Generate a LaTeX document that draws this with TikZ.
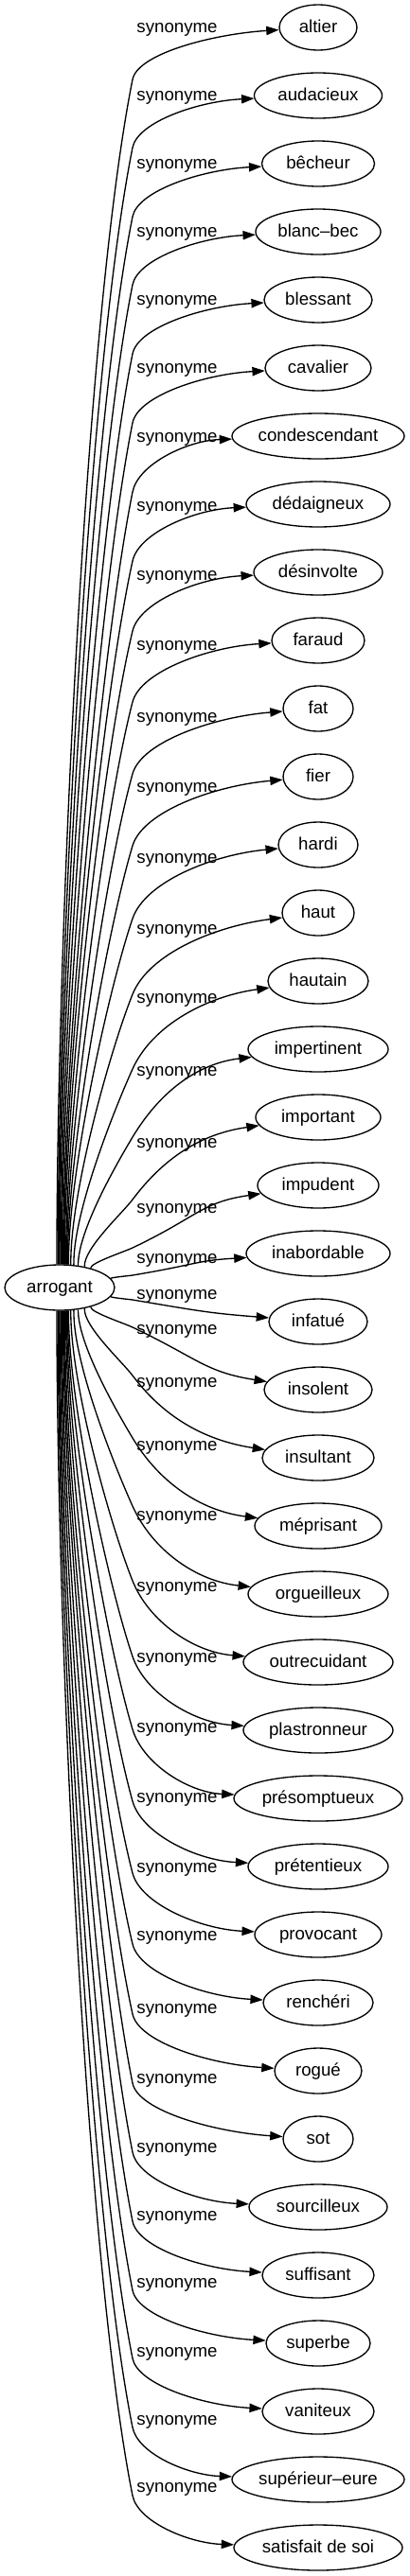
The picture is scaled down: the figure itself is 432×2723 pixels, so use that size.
\documentclass[tikz,border=0pt]{standalone}
\usepackage{fontspec}
\setmainfont{Liberation Sans}
\usetikzlibrary{shapes.geometric,arrows.meta}
\tikzset{
  tgt/.style={draw, ellipse, line width=1pt, inner sep=0pt, minimum height=36pt, text height=11.2pt, text depth=2.8pt},
  lbl/.style={inner sep=0pt, text height=11.2pt, text depth=2.8pt},
  edg/.style={line width=1pt, -{Triangle[length=10pt,width=7pt]}},
}
\newcommand\tgtnode[4]{\pgfmathsetmacro\myMw{#3*0.75}\node[tgt, minimum width=\myMw pt] (#1) at (336,#2) {#4};}
\newcommand\lblnode[2]{\node[lbl] (#1) at (187,#2) {synonyme};}
\newcommand\sedge[8]{%
 \pgfmathsetmacro\eTy{1361+(#3)*(1332-72*(#2))}%
 \pgfmathsetmacro\eRt{24*sqrt(1-((#6)/58)^2)}%
 \pgfmathsetmacro\eSx{63+(#6)}%
 \pgfmathsetmacro\eSy{1361+(#3)*\eRt}%
 \pgfmathsetmacro\eAng{atan2(-(#3)*\eRt,(#6))}%
 \pgfmathsetmacro\eWy{\eTy-(#3)*(#4)}%
 \pgfmathsetmacro\eDd{abs(\eWy-\eSy)}%
 \pgfmathsetmacro\eAy{\eSy+0.27*(\eWy-\eSy)}%
 \pgfmathsetmacro\eBx{140-0.2*\eDd*(#5)}%
 \pgfmathsetmacro\eBy{\eWy-0.2*(\eWy-\eSy)}%
 \pgfmathsetmacro\eCx{140+0.5*(#4)*(#5)}%
 \pgfmathsetmacro\eCy{\eWy+(#3)*0.5*(#4)}%
 \pgfmathsetmacro\eTx{336-(#8)/2}%
 \pgfmathsetmacro\eEe{0.45*(\eTx-140)}%
 \pgfmathsetmacro\eDx{\eTx-\eEe}%
 \pgfmathsetmacro\eDy{\eTy-(#3)*\eEe*(#7)}%
 \draw[edg] (root.\eAng) .. controls (\eSx,\eAy) and (\eBx,\eBy) .. (140,\eWy) .. controls (\eCx,\eCy) and (\eDx,\eDy) .. (#1);}
\begin{document}
\begin{tikzpicture}[x=0.75pt,y=-0.75pt,font=\fontsize{14pt}{16pt}\selectfont]
\path[use as bounding box, fill=white] (0,0) rectangle (432,2723);
\node[tgt, minimum width=87pt] (root) at (63,1361) {arrogant};
\tgtnode{t0}{29}{82}{altier}
\tgtnode{t1}{101}{135}{audacieux}
\tgtnode{t2}{173}{119}{bêcheur}
\tgtnode{t3}{245}{132}{blanc–bec}
\tgtnode{t4}{317}{114}{blessant}
\tgtnode{t5}{389}{112}{cavalier}
\tgtnode{t6}{461}{182}{condescendant}
\tgtnode{t7}{533}{152}{dédaigneux}
\tgtnode{t8}{605}{136}{désinvolte}
\tgtnode{t9}{677}{98}{faraud}
\tgtnode{t10}{749}{74}{fat}
\tgtnode{t11}{821}{74}{fier}
\tgtnode{t12}{893}{84}{hardi}
\tgtnode{t13}{965}{76}{haut}
\tgtnode{t14}{1037}{106}{hautain}
\tgtnode{t15}{1109}{148}{impertinent}
\tgtnode{t16}{1181}{132}{important}
\tgtnode{t17}{1253}{128}{impudent}
\tgtnode{t18}{1325}{152}{inabordable}
\tgtnode{t19}{1397}{104}{infatué}
\tgtnode{t20}{1469}{114}{insolent}
\tgtnode{t21}{1541}{118}{insultant}
\tgtnode{t22}{1613}{134}{méprisant}
\tgtnode{t23}{1685}{148}{orgueilleux}
\tgtnode{t24}{1757}{158}{outrecuidant}
\tgtnode{t25}{1829}{158}{plastronneur}
\tgtnode{t26}{1901}{178}{présomptueux}
\tgtnode{t27}{1973}{148}{prétentieux}
\tgtnode{t28}{2045}{134}{provocant}
\tgtnode{t29}{2117}{116}{renchéri}
\tgtnode{t30}{2189}{92}{rogué}
\tgtnode{t31}{2261}{74}{sot}
\tgtnode{t32}{2333}{146}{sourcilleux}
\tgtnode{t33}{2405}{118}{suffisant}
\tgtnode{t34}{2477}{110}{superbe}
\tgtnode{t35}{2549}{118}{vaniteux}
\tgtnode{t36}{2621}{182}{supérieur–eure}
\tgtnode{t37}{2693}{178}{satisfait de soi}
\lblnode{l0}{29}
\lblnode{l1}{101}
\lblnode{l2}{173}
\lblnode{l3}{245}
\lblnode{l4}{317}
\lblnode{l5}{389}
\lblnode{l6}{462}
\lblnode{l7}{535}
\lblnode{l8}{608}
\lblnode{l9}{682}
\lblnode{l10}{758}
\lblnode{l11}{832}
\lblnode{l12}{907}
\lblnode{l13}{982}
\lblnode{l14}{1055}
\lblnode{l15}{1132}
\lblnode{l16}{1208}
\lblnode{l17}{1277}
\lblnode{l18}{1330}
\lblnode{l19}{1368}
\lblnode{l20}{1405}
\lblnode{l21}{1461}
\lblnode{l22}{1528}
\lblnode{l23}{1602}
\lblnode{l24}{1677}
\lblnode{l25}{1752}
\lblnode{l26}{1826}
\lblnode{l27}{1900}
\lblnode{l28}{1974}
\lblnode{l29}{2046}
\lblnode{l30}{2123}
\lblnode{l31}{2197}
\lblnode{l32}{2270}
\lblnode{l33}{2342}
\lblnode{l34}{2413}
\lblnode{l35}{2486}
\lblnode{l36}{2558}
\lblnode{l37}{2629}
\sedge{t0}{0}{-1}{55}{.2}{-3}{.1}{82}
\sedge{t1}{1}{-1}{55}{.2}{-2}{.1}{135}
\sedge{t2}{2}{-1}{56}{.2}{-1}{.1}{119}
\sedge{t3}{3}{-1}{56}{.2}{0}{.1}{132}
\sedge{t4}{4}{-1}{57}{.2}{1}{.1}{114}
\sedge{t5}{5}{-1}{58}{.2}{2}{.1}{112}
\sedge{t6}{6}{-1}{59}{.2}{3}{.1}{182}
\sedge{t7}{7}{-1}{60}{.22}{4}{.1}{152}
\sedge{t8}{8}{-1}{62}{.24}{5}{.1}{136}
\sedge{t9}{9}{-1}{65}{.26}{6}{.1}{98}
\sedge{t10}{10}{-1}{69}{.28}{7}{.12}{74}
\sedge{t11}{11}{-1}{73}{.3}{8}{.13}{74}
\sedge{t12}{12}{-1}{78}{.34}{9}{.15}{84}
\sedge{t13}{13}{-1}{86}{.4}{11}{.2}{76}
\sedge{t14}{14}{-1}{93}{.45}{14}{.25}{106}
\sedge{t15}{15}{-1}{93}{.6}{19}{.28}{148}
\sedge{t16}{16}{-1}{87}{.75}{25}{.3}{132}
\sedge{t17}{17}{-1}{66}{2.1}{32}{.3}{128}
\sedge{t18}{18}{-1}{23}{6}{53}{.14}{152}
\sedge{t19}{18}{1}{23}{6}{53}{.14}{104}
\sedge{t20}{17}{1}{66}{2.1}{32}{.3}{114}
\sedge{t21}{16}{1}{87}{.75}{25}{.3}{118}
\sedge{t22}{15}{1}{93}{.6}{19}{.28}{134}
\sedge{t23}{14}{1}{93}{.45}{14}{.25}{148}
\sedge{t24}{13}{1}{86}{.4}{11}{.2}{158}
\sedge{t25}{12}{1}{78}{.34}{9}{.15}{158}
\sedge{t26}{11}{1}{73}{.3}{8}{.13}{178}
\sedge{t27}{10}{1}{69}{.28}{7}{.12}{148}
\sedge{t28}{9}{1}{65}{.26}{6}{.1}{134}
\sedge{t29}{8}{1}{62}{.24}{5}{.1}{116}
\sedge{t30}{7}{1}{60}{.22}{4}{.1}{92}
\sedge{t31}{6}{1}{59}{.2}{3}{.1}{74}
\sedge{t32}{5}{1}{58}{.2}{2}{.1}{146}
\sedge{t33}{4}{1}{57}{.2}{1}{.1}{118}
\sedge{t34}{3}{1}{56}{.2}{0}{.1}{110}
\sedge{t35}{2}{1}{56}{.2}{-1}{.1}{118}
\sedge{t36}{1}{1}{55}{.2}{-2}{.1}{182}
\sedge{t37}{0}{1}{55}{.2}{-3}{.1}{178}
\end{tikzpicture}
\end{document}
